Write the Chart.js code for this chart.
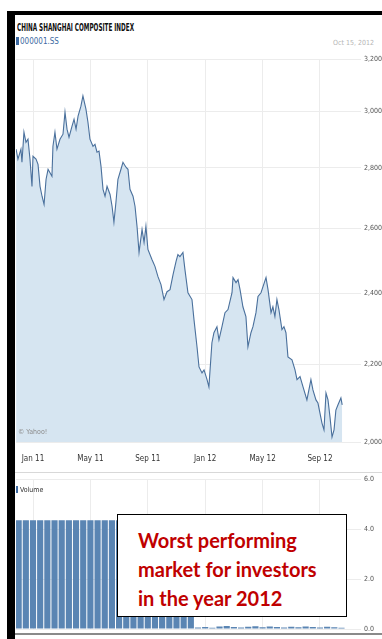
<!DOCTYPE html>
<html>
<head>
<meta charset="utf-8">
<script src="https://cdn.jsdelivr.net/npm/chart.js@4.4.1/dist/chart.umd.min.js"></script>
<style>
  body { margin: 0; width: 382px; height: 639px; position: relative; overflow: hidden; background: #fff;
         font-family: 'Liberation Sans Narrow', 'DejaVu Sans Condensed', sans-serif; }
  .abs { position: absolute; }
  #frameTop { left: 7px; top: 11px; width: 375px; height: 4px; background: #000; }
  #frameLeft { left: 7px; top: 11px; width: 8px; height: 628px; background: #000; }
  #frameBottom { left: 15px; top: 633px; width: 367px; height: 2px; background: #8a8a8a; }
  #panelLine { left: 15px; top: 472px; width: 367px; height: 1px; background: #d8d8d8; }
  #title { left: 17px; top: 22px; font-size: 10px; font-weight: bold; color: #111; white-space: nowrap; transform-origin: left top; }
  #symbol { left: 16px; top: 37px; font-size: 8px; color: #3d6aa2; white-space: nowrap; }
  #symbol span { display: inline-block; width: 3px; height: 8px; background: #3d6aa2; margin-right: 1px; vertical-align: -1px; }
  #asof { left: 333px; top: 39px; font-size: 7px; color: #b5b5b5; white-space: nowrap; }
  #credit { left: 18px; top: 428px; font-size: 7px; color: #8c8c8c; white-space: nowrap; }
  #volLabel { left: 16px; top: 486px; font-size: 7px; color: #333; white-space: nowrap; }
  #volLabel span { display: inline-block; width: 2px; height: 7px; background: #3d6aa2; margin-right: 2px; vertical-align: -1px; }
  #units { left: 371px; top: 548px; font-size: 7px; font-weight: bold; color: #555; transform: rotate(90deg); transform-origin: center; white-space: nowrap; }
  #note { left: 117px; top: 514px; width: 230px; height: 103px; border: 1.5px solid #000; background: #fff;
          font-family: Lato, 'Open Sans', sans-serif; font-weight: bold; font-size: 20px; color: #c00000;
          line-height: 29px; padding: 11px 0 0 20px; box-sizing: border-box; white-space: nowrap; }
</style>
</head>
<body>
<div class="abs" id="frameTop"></div>
<div class="abs" id="frameLeft"></div>
<div class="abs" id="panelLine"></div>

<canvas class="abs" id="priceChart" style="left:16px; top:49px;"></canvas>
<canvas class="abs" id="volumeChart" style="left:16px; top:470px;"></canvas>

<div class="abs" id="frameBottom"></div>
<div class="abs" id="title">CHINA SHANGHAI COMPOSITE INDEX</div>
<div class="abs" id="symbol"><span></span>000001.SS</div>
<div class="abs" id="asof">Oct 15, 2012</div>
<div class="abs" id="credit">© Yahoo!</div>
<div class="abs" id="volLabel"><span></span>Volume</div>
<div class="abs" id="units">Millions</div>
<div class="abs" id="note">Worst performing<br>market for investors<br>in the year 2012</div>

<script>
// months counted from Jan 2011 (0 = Jan 11)
const monthTicks = [0, 4, 8, 12, 16, 20];
const monthLabels = ['Jan 11', 'May 11', 'Sep 11', 'Jan 12', 'May 12', 'Sep 12'];
const priceTicks = [2000, 2200, 2400, 2600, 2800, 3000, 3200];
const volumeTicks = [0, 2, 4, 6];

// index close
const priceMonths = [
  -1.18, -1.05, -0.84, -0.77, -0.63, -0.49, -0.35, -0.21, -0.07, 0,
  0.21, 0.35, 0.49, 0.63, 0.77, 0.91, 1.05, 1.32, 1.39, 1.53,
  1.67, 1.88, 2.09, 2.23, 2.37, 2.51, 2.72, 2.86, 3.00, 3.14,
  3.34, 3.48, 3.69, 3.83, 3.97, 4.18, 4.32, 4.46, 4.60, 4.74,
  4.88, 5.02, 5.16, 5.37, 5.51, 5.64, 5.78, 5.92, 6.13, 6.27,
  6.48, 6.62, 6.76, 6.97, 7.11, 7.25, 7.39, 7.60, 7.74, 7.87,
  8.01, 8.29, 8.50, 8.71, 8.92, 9.13, 9.34, 9.55, 9.76, 9.97,
  10.10, 10.24, 10.45, 10.59, 10.80, 11.08, 11.22, 11.43, 11.57, 11.78,
  11.92, 12.13, 12.26, 12.47, 12.61, 12.82, 12.96, 13.17, 13.38, 13.59,
  13.87, 13.94, 14.15, 14.29, 14.43, 14.63, 14.84, 14.98, 15.19, 15.33,
  15.54, 15.68, 15.89, 16.03, 16.24, 16.38, 16.59, 16.72, 16.86, 17.00,
  17.14, 17.35, 17.49, 17.63, 17.77, 18.05, 18.26, 18.40, 18.61, 18.82,
  19.09, 19.37, 19.51, 19.72, 19.86, 20.14, 20.28, 20.42, 20.56, 20.70,
  20.84, 20.98, 21.11, 21.25, 21.46, 21.55
];
const priceValues = [
  2865, 2830, 2865, 2819, 2925, 2889, 2900, 2830, 2737, 2840,
  2830, 2812, 2737, 2704, 2677, 2761, 2795, 2771, 2875, 2925,
  2865, 2900, 2918, 2998, 2936, 2907, 2947, 2972, 2936, 2983,
  3020, 3058, 3009, 2961, 2900, 2875, 2882, 2854, 2858, 2805,
  2727, 2704, 2737, 2710, 2671, 2619, 2684, 2761, 2795, 2819,
  2802, 2795, 2727, 2704, 2671, 2606, 2524, 2596, 2555, 2606,
  2533, 2502, 2481, 2450, 2426, 2382, 2405, 2411, 2456, 2496,
  2517, 2511, 2524, 2471, 2402, 2382, 2324, 2248, 2193, 2177,
  2185, 2159, 2140, 2259, 2287, 2304, 2267, 2304, 2344, 2353,
  2402, 2447, 2432, 2441, 2411, 2361, 2333, 2248, 2287, 2304,
  2344, 2391, 2402, 2420, 2447, 2411, 2344, 2361, 2333, 2382,
  2353, 2296, 2304, 2287, 2220, 2212, 2185, 2159, 2167, 2140,
  2106, 2159, 2132, 2106, 2098, 2047, 2030, 2124, 2106, 2062,
  2012, 2030, 2080, 2093, 2111, 2093
];

// volume, millions
const volumeMonths = [
  -1.0, -0.5, 0, 0.5, 1.0, 1.5, 2.0, 2.5, 3.0, 3.5,
  4.0, 4.5, 5.0, 5.5, 6.0, 6.5, 7.0, 7.5, 8.0, 8.5,
  9.0, 9.5, 10.0, 10.5, 11.0, 11.5, 12.0, 12.5, 13.0, 13.5,
  14.0, 14.5, 15.0, 15.5, 16.0, 16.5, 17.0, 17.5, 18.0, 18.5,
  19.0, 19.5, 20.0, 20.5, 21.0, 21.5
];
const volumeValues = [
  4.35, 4.35, 4.35, 4.35, 4.35, 4.35, 4.35, 4.35, 4.35, 4.35,
  4.35, 4.35, 4.35, 4.35, 4.35, 4.35, 4.35, 4.35, 4.35, 4.35,
  4.35, 4.35, 4.35, 4.35, 4.35, 0.06, 0.08, 0.05, 0.1, 0.12,
  0.08, 0.06, 0.09, 0.11, 0.07, 0.1, 0.08, 0.06, 0.09, 0.07,
  0.1, 0.08, 0.06, 0.09, 0.07, 0.05
];

const tickFont = { family: "'Liberation Sans Narrow', 'DejaVu Sans Condensed', sans-serif", size: 7 };
const gridColor = '#ececec';
const xMin = -1.185;
const xMax = 22.86;

function withCommas(v) {
  return String(v).replace(/\B(?=(\d{3})+(?!\d))/g, ',');
}

function monthAxis(showLabels) {
  return {
    type: 'linear',
    min: xMin,
    max: xMax,
    offset: false,
    afterBuildTicks: s => { s.ticks = monthTicks.map(v => ({ value: v })); },
    afterFit: s => {
      s.height = showLabels ? 30 : 0;
      s.paddingLeft = 0;
      s.paddingRight = 0;
    },
    ticks: {
      display: showLabels,
      callback: v => monthLabels[monthTicks.indexOf(v)],
      font: { family: tickFont.family, size: 8 },
      color: '#333',
      padding: 12,
      maxRotation: 0
    },
    grid: { color: gridColor, drawTicks: false, offset: false },
    border: { display: false }
  };
}

Chart.defaults.animation = false;
Chart.defaults.responsive = false;

const priceCanvas = document.getElementById('priceChart');
priceCanvas.width = 366;
priceCanvas.height = 423;
new Chart(priceCanvas, {
  type: 'line',
  data: {
    datasets: [{
      data: priceMonths.map((m, i) => ({ x: m, y: priceValues[i] })),
      borderColor: '#4a709c',
      borderWidth: 1.1,
      backgroundColor: '#d6e5f1',
      fill: 'start',
      pointRadius: 0,
      tension: 0
    }]
  },
  options: {
    layout: { padding: { top: 10, left: 0, right: 0, bottom: 0 } },
    plugins: { legend: { display: false }, tooltip: { enabled: false } },
    scales: {
      x: monthAxis(true),
      y: {
        type: 'logarithmic',
        position: 'right',
        min: 2000,
        max: 3200,
        afterBuildTicks: s => { s.ticks = priceTicks.map(v => ({ value: v })); },
        afterFit: s => { s.width = 21; s.paddingTop = 0; s.paddingBottom = 0; },
        ticks: { callback: v => withCommas(v), font: tickFont, color: '#555', padding: 3 },
        grid: { color: gridColor, drawTicks: false },
        border: { display: false }
      }
    }
  }
});

const volumeCanvas = document.getElementById('volumeChart');
volumeCanvas.width = 366;
volumeCanvas.height = 169;
new Chart(volumeCanvas, {
  type: 'bar',
  data: {
    datasets: [{
      data: volumeMonths.map((m, i) => ({ x: m, y: volumeValues[i] })),
      backgroundColor: '#5a85b3',
      borderWidth: 0,
      barPercentage: 0.86,
      categoryPercentage: 1
    }]
  },
  options: {
    layout: { padding: { top: 9, left: 0, right: 0, bottom: 10 } },
    plugins: { legend: { display: false }, tooltip: { enabled: false } },
    scales: {
      x: monthAxis(false),
      y: {
        position: 'right',
        min: 0,
        max: 6,
        afterBuildTicks: s => { s.ticks = volumeTicks.map(v => ({ value: v })); },
        afterFit: s => { s.width = 21; s.paddingTop = 0; s.paddingBottom = 0; },
        ticks: { callback: v => v.toFixed(1), font: tickFont, color: '#555', padding: 3 },
        grid: { color: gridColor, drawTicks: false },
        border: { display: false }
      }
    }
  }
});

// squeeze the heading to its narrow width
const title = document.getElementById('title');
title.style.transform = 'scaleX(' + (117 / title.offsetWidth) + ')';
</script>
</body>
</html>
